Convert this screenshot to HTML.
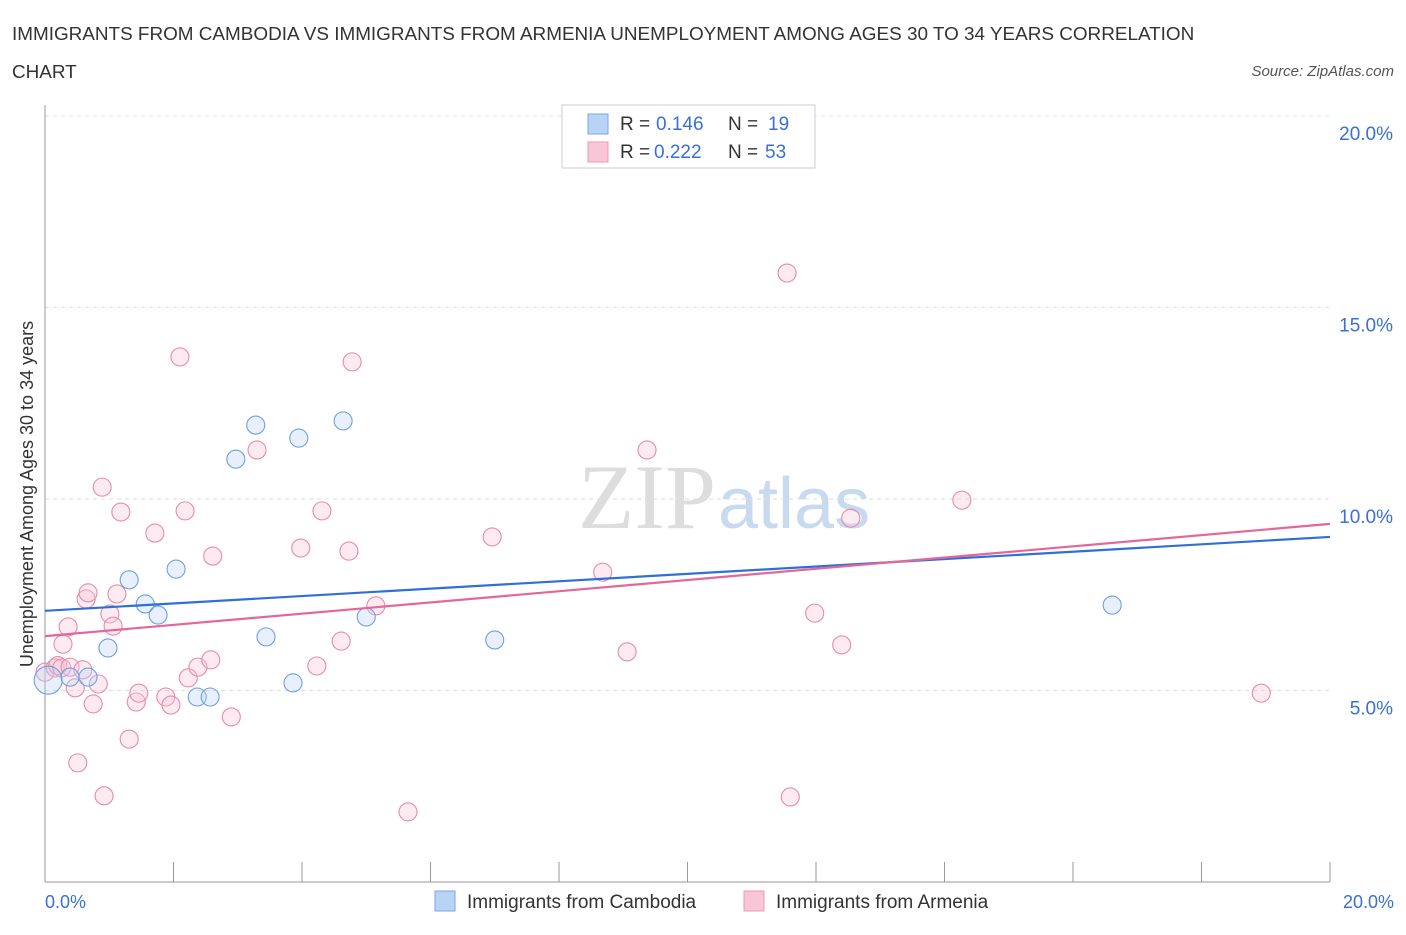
<!DOCTYPE html>
<html><head><meta charset="utf-8"><style>
body{margin:0;background:#fff;font-family:"Liberation Sans",sans-serif;}
</style></head><body>
<svg width="1406" height="930" xmlns="http://www.w3.org/2000/svg" id="svg">
<text x="12" y="40" font-size="18.9" fill="#333">IMMIGRANTS FROM CAMBODIA VS IMMIGRANTS FROM ARMENIA UNEMPLOYMENT AMONG AGES 30 TO 34 YEARS CORRELATION</text>
<text x="12" y="78" font-size="18.9" fill="#333">CHART</text>
<text x="1394" y="76" font-size="15" fill="#555" font-style="italic" text-anchor="end">Source: ZipAtlas.com</text>
<text x="716" y="528" font-size="92" fill="#ddd" text-anchor="end" font-family="Liberation Serif,serif">ZIP</text>
<text x="718" y="528" font-size="72" fill="#c8daf0">atlas</text>
<g id="grid"></g>
<g id="marks"></g>
<text transform="translate(33,494) rotate(-90)" font-size="18" fill="#333" text-anchor="middle">Unemployment Among Ages 30 to 34 years</text>
<text x="45" y="908" font-size="18" fill="#3a6fd8">0.0%</text>
<text x="1394" y="908" font-size="18" fill="#3a6fd8" text-anchor="end">20.0%</text>
<g>
<rect x="562" y="105" width="253" height="63" fill="#fff" stroke="#ccc"/>
<rect x="588" y="114" width="20" height="20" fill="#b9d3f5" stroke="#7aa6e8"/>
<rect x="588" y="142" width="20" height="20" fill="#f8c6d6" stroke="#ec9ab4"/>
<text x="620" y="130" font-size="19" fill="#333">R =</text>
<text x="656" y="130" font-size="19" fill="#3a6fd8">0.146</text>
<text x="728" y="130" font-size="19" fill="#333">N =</text>
<text x="768" y="130" font-size="19" fill="#3a6fd8">19</text>
<text x="620" y="158" font-size="19" fill="#333">R =</text>
<text x="654" y="158" font-size="19" fill="#3a6fd8">0.222</text>
<text x="728" y="158" font-size="19" fill="#333">N =</text>
<text x="765" y="158" font-size="19" fill="#3a6fd8">53</text>
</g>
<g>
<rect x="435" y="891" width="20" height="20" fill="#b9d3f5" stroke="#7aa6e8"/>
<text x="467" y="908" font-size="19" fill="#333">Immigrants from Cambodia</text>
<rect x="744" y="891" width="20" height="20" fill="#f8c6d6" stroke="#ec9ab4"/>
<text x="776" y="908" font-size="19" fill="#333">Immigrants from Armenia</text>
</g>
</svg>
<script>
const yTicks=[5,10,15,20];
const yTickLabels=["5.0%","10.0%","15.0%","20.0%"];
const xTicks=[0,2,4,6,8,10,12,14,16,18,20];
const cambodiaX=[0.05,0.39,0.67,0.98,1.31,1.56,1.76,2.04,2.37,2.57,2.97,3.28,3.44,3.86,3.95,4.64,5.00,7.00,16.61];
const cambodiaY=[5.27,5.35,5.35,6.11,7.89,7.26,6.97,8.17,4.83,4.83,11.04,11.93,6.40,5.20,11.59,12.04,6.92,6.32,7.23];
const armeniaX=[0,0.16,0.2,0.26,0.28,0.36,0.39,0.47,0.51,0.59,0.64,0.67,0.75,0.83,0.89,0.92,1.01,1.06,1.12,1.18,1.31,1.42,1.46,1.71,1.88,1.96,2.10,2.18,2.23,2.38,2.58,2.61,2.90,3.30,3.98,4.23,4.31,4.61,4.73,4.78,5.15,5.65,6.96,8.68,9.06,9.37,11.55,11.60,11.98,12.40,12.54,14.27,18.93];
const armeniaY=[5.48,5.59,5.65,5.59,6.21,6.66,5.61,5.07,3.11,5.54,7.39,7.55,4.65,5.17,10.31,2.25,7.00,6.68,7.52,9.66,3.73,4.70,4.93,9.11,4.83,4.62,13.71,9.69,5.33,5.61,5.80,8.51,4.31,11.28,8.72,5.64,9.69,6.29,8.64,13.58,7.21,1.83,9.01,8.09,6.01,11.28,15.90,2.22,7.02,6.19,9.50,9.97,4.93];
const cambodiaTrend=[7.08,9.01];
const armeniaTrend=[6.42,9.35];
const NS="http://www.w3.org/2000/svg";
const X0=45,X1=1330,Y0=882,YPX=38.3;
const sx=v=>X0+(X1-X0)*v/20;
const sy=v=>Y0-v*YPX;
function mk(t,a,parent){const e=document.createElementNS(NS,t);for(const k in a)e.setAttribute(k,a[k]);document.getElementById(parent).appendChild(e);return e;}
yTicks.forEach((v,i)=>{
 const l=mk('line',{x1:X0,x2:X1,y1:sy(v),y2:sy(v),stroke:'#ddd','stroke-dasharray':'4,4'},'grid');
 
 
 const t=mk('text',{x:1393,y:sy(v)+24,'font-size':19,fill:'#3a6fd8','text-anchor':'end'},'grid');
 t.textContent=yTickLabels[i];
 
 
});
const ax=mk('line',{x1:X0,x2:X0,y1:105,y2:Y0,stroke:'#999'},'grid');


const bx=mk('line',{x1:X0,x2:X1,y1:Y0,y2:Y0,stroke:'#999'},'grid');


xTicks.forEach(v=>{
 const l=mk('line',{x1:sx(v),x2:sx(v),y1:Y0-20,y2:Y0,stroke:'#999'},'grid');
 
 
});
function pts(xs,ys,fill,stroke,name){
 xs.forEach((v,i)=>{
  const c=mk('circle',{cx:sx(v),cy:sy(ys[i]),r:(i===0&&name==='cambodia-point')?14:9,fill:fill,'fill-opacity':0.35,stroke:stroke,'stroke-width':1.1},'marks');
  
  
 });
}
pts(armeniaX,armeniaY,'#f8c6d6','#e88aab','armenia-point');
pts(cambodiaX,cambodiaY,'#b9d3f5','#6f9fe0','cambodia-point');
const tb=mk('line',{x1:sx(0),x2:sx(20),y1:sy(cambodiaTrend[0]),y2:sy(cambodiaTrend[1]),stroke:'#2f6fd6','stroke-width':2.2},'marks');


const tp=mk('line',{x1:sx(0),x2:sx(20),y1:sy(armeniaTrend[0]),y2:sy(armeniaTrend[1]),stroke:'#e4679a','stroke-width':2.2},'marks');


</script>
</body></html>
